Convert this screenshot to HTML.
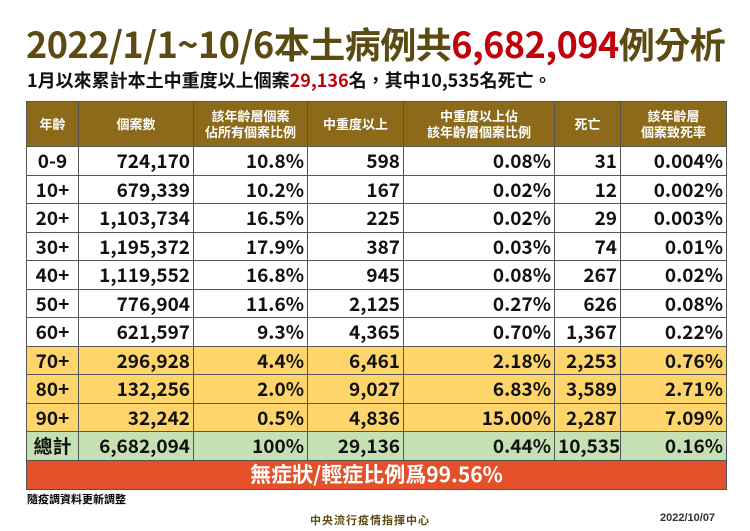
<!DOCTYPE html>
<html><head><meta charset="utf-8"><style>
body{margin:0;width:750px;height:531px;background:#fff;font-family:"Liberation Sans","Noto Sans CJK TC",sans-serif;position:relative;overflow:hidden}
.t{position:absolute;left:26px;top:18px;font-size:36px;font-weight:bold;color:#5b4a12;white-space:nowrap;letter-spacing:-0.5px;font-family:"Noto Sans CJK TC",sans-serif;line-height:50px}
.s{position:absolute;left:27px;top:67px;font-size:18px;font-weight:bold;color:#111;font-family:"Noto Sans CJK TC",sans-serif;line-height:26px;white-space:nowrap}
.r{color:#c0000a}
table{position:absolute;left:26px;top:101px;border-collapse:collapse;width:700px;table-layout:fixed}
td,th{border:1px solid #555;padding:0 3px;height:27.5px;font-size:19px;font-weight:bold;color:#111;text-align:right;line-height:27px;white-space:nowrap;font-family:"Noto Sans CJK TC",sans-serif}
th{background:#8c6a1a;color:#fff;font-size:13px;text-align:center;height:44px;line-height:16px;font-weight:bold}
td:first-child{text-align:center}
.y td{background:#fdd56b}
.g td{background:#c5e0b3}
.o td{background:#e4502a;color:#fff;text-align:center;font-size:21px;height:28px}
.f1{position:absolute;left:27px;top:491px;font-size:11px;font-weight:bold;font-family:"Noto Sans CJK TC",sans-serif}
.f2{position:absolute;left:310px;top:512px;font-size:11px;font-weight:bold;color:#5b4a12;letter-spacing:1px;font-family:"Noto Sans CJK TC",sans-serif}
.f3{position:absolute;left:660px;top:512px;font-size:11px;font-weight:bold;color:#333}
</style></head><body>
<div class="t">2022/1/1~10/6本土病例共<span class="r">6,682,094</span>例分析</div>
<div class="s">1月以來累計本土中重度以上個案<span class="r">29,136</span>名，其中10,535名死亡。</div>
<table>
<colgroup><col style="width:52px"><col style="width:115px"><col style="width:114px"><col style="width:96px"><col style="width:151px"><col style="width:66px"><col style="width:106px"></colgroup>
<tr><th>年齡</th><th>個案數</th><th>該年齡層個案<br>佔所有個案比例</th><th>中重度以上</th><th>中重度以上佔<br>該年齡層個案比例</th><th>死亡</th><th>該年齡層<br>個案致死率</th></tr>
<tr><td>0-9</td><td>724,170</td><td>10.8%</td><td>598</td><td>0.08%</td><td>31</td><td>0.004%</td></tr>
<tr><td>10+</td><td>679,339</td><td>10.2%</td><td>167</td><td>0.02%</td><td>12</td><td>0.002%</td></tr>
<tr><td>20+</td><td>1,103,734</td><td>16.5%</td><td>225</td><td>0.02%</td><td>29</td><td>0.003%</td></tr>
<tr><td>30+</td><td>1,195,372</td><td>17.9%</td><td>387</td><td>0.03%</td><td>74</td><td>0.01%</td></tr>
<tr><td>40+</td><td>1,119,552</td><td>16.8%</td><td>945</td><td>0.08%</td><td>267</td><td>0.02%</td></tr>
<tr><td>50+</td><td>776,904</td><td>11.6%</td><td>2,125</td><td>0.27%</td><td>626</td><td>0.08%</td></tr>
<tr><td>60+</td><td>621,597</td><td>9.3%</td><td>4,365</td><td>0.70%</td><td>1,367</td><td>0.22%</td></tr>
<tr class="y"><td>70+</td><td>296,928</td><td>4.4%</td><td>6,461</td><td>2.18%</td><td>2,253</td><td>0.76%</td></tr>
<tr class="y"><td>80+</td><td>132,256</td><td>2.0%</td><td>9,027</td><td>6.83%</td><td>3,589</td><td>2.71%</td></tr>
<tr class="y"><td>90+</td><td>32,242</td><td>0.5%</td><td>4,836</td><td>15.00%</td><td>2,287</td><td>7.09%</td></tr>
<tr class="g"><td>總計</td><td>6,682,094</td><td>100%</td><td>29,136</td><td>0.44%</td><td>10,535</td><td>0.16%</td></tr>
<tr class="o"><td colspan="7">無症狀/輕症比例爲99.56%</td></tr>
</table>
<div class="f1">隨疫調資料更新調整</div>
<div class="f2">中央流行疫情指揮中心</div>
<div class="f3">2022/10/07</div>
</body></html>
